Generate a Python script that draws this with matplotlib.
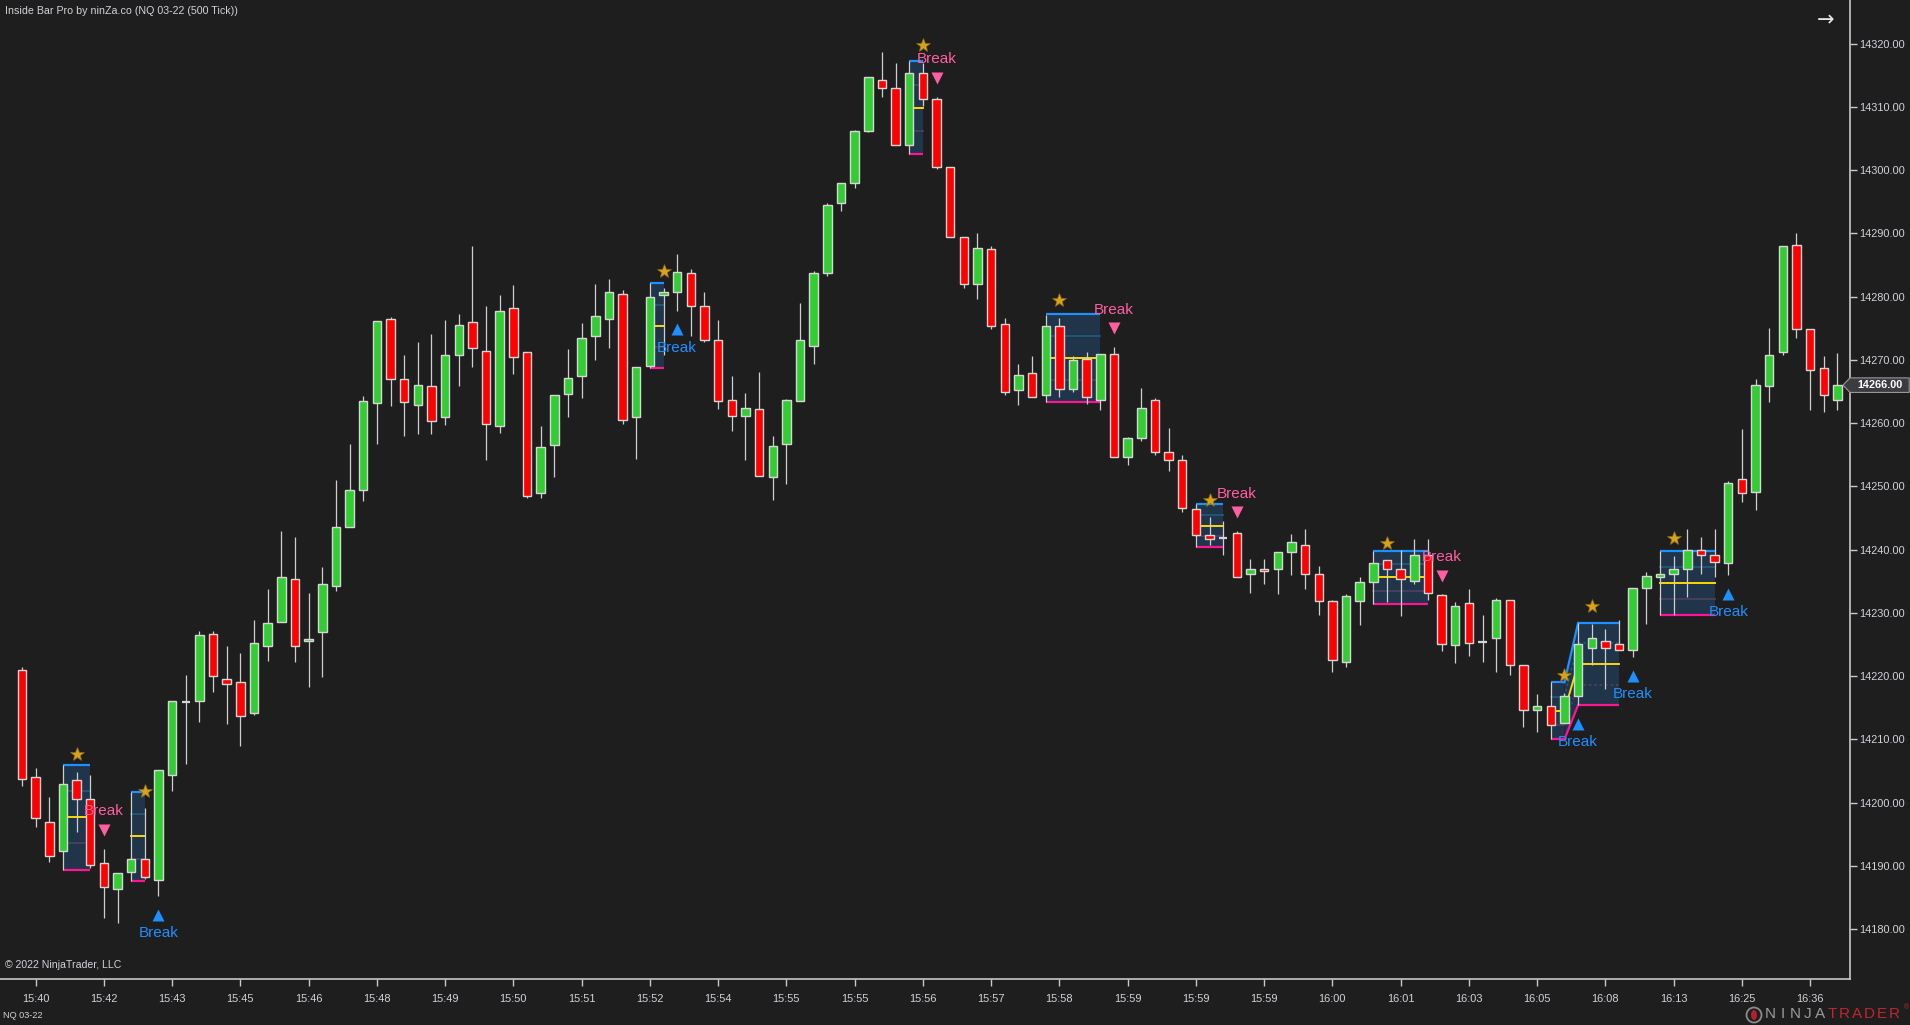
import numpy as np
import matplotlib.pyplot as plt
from matplotlib.patches import Polygon, Rectangle, Ellipse

# ── Candles (500 tick NQ 03-22) ───────────────────────────────────────────────
opens = [14221.0, 14204.0, 14197.0, 14192.3, 14203.5, 14200.5, 14190.4, 14186.3, 14189.0, 14191.0,
         14187.7, 14204.4, 14215.9, 14216.0, 14226.7, 14219.6, 14219.0, 14214.2, 14224.8, 14228.5,
         14235.3, 14225.5, 14227.0, 14234.3, 14243.5, 14249.5, 14263.1, 14276.4, 14266.9, 14262.8,
         14265.8, 14260.9, 14270.7, 14276.0, 14271.4, 14259.6, 14278.2, 14271.2, 14248.9, 14256.6,
         14264.6, 14267.4, 14273.7, 14276.4, 14280.4, 14260.9, 14269.1, 14280.3, 14280.7, 14283.7,
         14278.5, 14273.1, 14263.6, 14261.1, 14262.2, 14251.4, 14256.7, 14263.5, 14272.2, 14283.7,
         14294.8, 14297.9, 14306.2, 14314.3, 14313.0, 14304.0, 14315.4, 14311.2, 14300.5, 14289.4,
         14282.0, 14287.5, 14275.6, 14265.2, 14267.9, 14264.4, 14275.4, 14265.4, 14270.1, 14263.6,
         14270.9, 14254.6, 14257.6, 14263.6, 14255.4, 14254.1, 14246.4, 14242.3, 14241.8, 14242.6,
         14236.1, 14237.0, 14236.9, 14239.6, 14240.8, 14236.1, 14231.8, 14222.3, 14231.8, 14234.8,
         14238.3, 14236.9, 14235.1, 14239.1, 14232.8, 14224.9, 14231.5, 14225.4, 14226.0, 14232.1,
         14221.8, 14214.7, 14215.2, 14212.5, 14216.8, 14224.5, 14225.5, 14225.0, 14224.1, 14233.9,
         14235.6, 14236.1, 14236.9, 14239.9, 14239.1, 14237.8, 14251.1, 14249.1, 14265.8, 14271.2,
         14288.1, 14274.9, 14268.7, 14263.6]
highs = [14221.5, 14205.4, 14200.8, 14206.0, 14204.8, 14204.3, 14192.7, 14188.9, 14201.7, 14199.1,
         14205.2, 14216.0, 14220.2, 14227.1, 14227.1, 14224.8, 14223.6, 14228.8, 14233.8, 14243.0,
         14242.0, 14233.2, 14237.2, 14251.0, 14256.7, 14264.3, 14276.1, 14276.8, 14270.8, 14272.8,
         14274.1, 14276.3, 14277.3, 14288.0, 14278.5, 14280.3, 14281.9, 14271.2, 14259.6, 14264.4,
         14271.7, 14275.8, 14282.0, 14282.8, 14281.1, 14268.8, 14282.1, 14281.3, 14286.7, 14284.4,
         14280.8, 14276.3, 14267.5, 14264.8, 14268.1, 14258.0, 14263.8, 14279.0, 14284.1, 14294.8,
         14298.0, 14306.4, 14314.7, 14318.7, 14317.0, 14317.2, 14317.0, 14311.6, 14300.5, 14289.4,
         14290.1, 14288.0, 14276.6, 14269.4, 14270.6, 14277.1, 14276.6, 14270.6, 14271.2, 14270.9,
         14272.0, 14257.8, 14265.5, 14263.9, 14259.3, 14254.9, 14247.2, 14245.1, 14244.5, 14242.9,
         14238.5, 14238.5, 14239.6, 14242.5, 14243.3, 14237.4, 14232.1, 14232.9, 14235.6, 14239.8,
         14238.3, 14239.9, 14241.6, 14241.6, 14232.9, 14231.7, 14233.7, 14229.6, 14232.4, 14232.1,
         14221.8, 14217.1, 14219.0, 14217.4, 14228.4, 14228.3, 14227.4, 14228.8, 14233.9, 14236.4,
         14239.8, 14239.0, 14243.3, 14242.0, 14243.3, 14250.9, 14259.0, 14266.9, 14275.0, 14288.0,
         14290.0, 14274.9, 14270.6, 14271.1]
lows = [14202.6, 14196.2, 14190.6, 14189.4, 14195.4, 14189.7, 14181.7, 14180.9, 14187.6, 14187.9,
        14185.2, 14201.9, 14206.1, 14212.8, 14217.5, 14212.4, 14209.0, 14213.8, 14222.4, 14228.5,
        14222.2, 14218.2, 14219.8, 14233.5, 14243.5, 14247.7, 14256.7, 14262.7, 14257.9, 14258.3,
        14258.3, 14259.7, 14265.8, 14268.8, 14254.1, 14258.5, 14267.8, 14248.2, 14248.1, 14251.5,
        14260.9, 14263.9, 14270.0, 14271.8, 14259.8, 14254.4, 14268.7, 14270.8, 14277.8, 14273.8,
        14272.9, 14262.3, 14258.8, 14254.1, 14251.6, 14247.8, 14250.3, 14263.5, 14269.4, 14283.3,
        14293.5, 14297.1, 14306.0, 14311.5, 14304.0, 14302.5, 14310.1, 14300.1, 14289.4, 14281.4,
        14279.7, 14274.8, 14264.4, 14262.8, 14264.1, 14263.4, 14264.1, 14264.9, 14263.0, 14262.1,
        14254.6, 14253.3, 14257.1, 14254.9, 14252.5, 14246.0, 14240.4, 14240.7, 14239.2, 14235.6,
        14233.2, 14234.5, 14233.0, 14236.0, 14233.8, 14229.7, 14220.6, 14221.5, 14228.0, 14231.4,
        14231.7, 14229.5, 14234.5, 14232.1, 14224.0, 14222.0, 14223.2, 14222.3, 14220.7, 14220.2,
        14212.0, 14211.2, 14210.0, 14212.5, 14215.4, 14221.8, 14218.0, 14224.1, 14223.0, 14228.3,
        14229.7, 14229.6, 14232.5, 14236.2, 14235.7, 14236.0, 14247.6, 14246.3, 14263.4, 14270.7,
        14273.4, 14262.1, 14261.8, 14262.1]
closes = [14203.7, 14197.6, 14191.5, 14203.0, 14200.5, 14190.2, 14186.7, 14188.9, 14191.0, 14188.2,
          14205.2, 14216.0, 14215.9, 14226.5, 14220.0, 14218.8, 14213.7, 14225.3, 14228.4, 14235.6,
          14224.8, 14225.8, 14234.5, 14243.5, 14249.5, 14263.5, 14276.1, 14267.0, 14263.4, 14266.1,
          14260.4, 14270.7, 14275.5, 14271.9, 14259.8, 14277.8, 14270.4, 14248.5, 14256.2, 14264.4,
          14267.1, 14273.4, 14276.9, 14280.7, 14260.5, 14268.8, 14279.9, 14280.7, 14283.9, 14278.5,
          14273.1, 14263.5, 14261.1, 14262.4, 14251.6, 14256.3, 14263.6, 14273.1, 14283.7, 14294.5,
          14298.0, 14306.2, 14314.7, 14313.0, 14304.0, 14315.4, 14311.2, 14300.5, 14289.4, 14282.0,
          14287.7, 14275.4, 14264.9, 14267.6, 14264.1, 14275.4, 14265.4, 14269.9, 14264.1, 14270.9,
          14254.6, 14257.6, 14262.4, 14255.4, 14254.1, 14246.5, 14242.3, 14241.6, 14241.8, 14235.6,
          14237.0, 14236.6, 14239.6, 14241.2, 14236.1, 14231.8, 14222.5, 14232.6, 14234.8, 14237.8,
          14236.9, 14235.3, 14239.1, 14233.1, 14225.0, 14231.0, 14225.3, 14225.4, 14232.1, 14221.8,
          14214.7, 14215.2, 14212.2, 14216.8, 14225.0, 14226.0, 14224.5, 14224.1, 14233.9, 14235.8,
          14236.1, 14236.9, 14239.9, 14239.1, 14238.1, 14250.6, 14248.9, 14266.1, 14270.7, 14288.0,
          14274.9, 14268.4, 14264.4, 14266.0]

tick_labels = ["15:40", "15:42", "15:43", "15:45", "15:46", "15:48", "15:49", "15:50", "15:51",
               "15:52", "15:54", "15:55", "15:55", "15:56", "15:57", "15:58", "15:59", "15:59",
               "15:59", "16:00", "16:01", "16:03", "16:05", "16:08", "16:13", "16:25", "16:36"]
last_price = 14266.00

# ── Inside bar patterns: mother bar, last inside bar, mother range, break side ─
ib_mother = [3, 8, 46, 65, 75, 86, 99, 112, 114, 120]
ib_last = [5, 9, 47, 66, 79, 88, 103, 113, 117, 124]
ib_top = [14206.0, 14201.7, 14282.1, 14317.2, 14277.2, 14247.2, 14239.8, 14219.0, 14228.4, 14239.8]
ib_bottom = [14189.4, 14187.6, 14268.7, 14302.5, 14263.4, 14240.4, 14231.4, 14210.0, 14215.4, 14229.7]
ib_break = ["down", "up", "up", "down", "down", "down", "down", "up", "up", "up"]

# ── Style ─────────────────────────────────────────────────────────────────────
BG = '#1e1e1e'
UP_COL = '#32cd32'
DN_COL = '#ff0000'
OUTLINE = '#d6d6d6'
AXIS_COL = '#c8c8c8'
TXT_COL = '#d2d2da'
BOX_FILL = '#21364d'
TOP_COL = '#1e90ff'
BOT_COL = '#ff1493'
MID_COL = '#ffd700'
Q3_COL = '#1d5a7a'
Q1_COL = '#4c3e62'
PINK = '#ff5fa2'
BLUE = '#1e8fff'
STAR = '#d9a21b'

plt.rcParams['font.family'] = ['Liberation Sans', 'DejaVu Sans']

W, H = 1910, 1025
fig = plt.figure(figsize=(W / 100, H / 100), dpi=100, facecolor=BG)
ax = fig.add_axes([0, 46 / H, 1850 / W, 979 / H], facecolor=BG)

o = np.array(opens); h = np.array(highs); l = np.array(lows); c = np.array(closes)
x = np.arange(len(o))

# ── Inside bar boxes ──────────────────────────────────────────────────────────
def box_lines(x0, x1, top, bot, dotted=False):
    rng = top - bot
    ls = (0, (1.5, 1.5)) if dotted else '-'
    ax.plot([x0, x1], [top, top], color=TOP_COL, lw=1.6, zorder=2, solid_capstyle='butt')
    ax.plot([x0, x1], [bot, bot], color=BOT_COL, lw=1.6, zorder=2, solid_capstyle='butt')
    ax.plot([x0, x1], [bot + rng / 2] * 2, color=MID_COL, lw=1.4, zorder=2)
    ax.plot([x0, x1], [bot + rng * 0.75] * 2, color=Q3_COL, lw=1.3, ls=ls, zorder=2)
    ax.plot([x0, x1], [bot + rng * 0.25] * 2, color=Q1_COL, lw=1.3, ls=ls, zorder=2)

for i in range(len(ib_mother)):
    m, e, top, bot = ib_mother[i], ib_last[i], ib_top[i], ib_bottom[i]
    ax.add_patch(Rectangle((m, bot), e - m, top - bot, facecolor=BOX_FILL, edgecolor='none',
                           alpha=0.95, zorder=1))
    box_lines(m, e, top, bot, dotted=(i > 0 and ib_mother[i] == ib_last[i - 1] + 1))
    # connector when the break bar becomes the next mother bar
    if i + 1 < len(ib_mother) and ib_mother[i + 1] == e + 1:
        nt, nb = ib_top[i + 1], ib_bottom[i + 1]
        ax.add_patch(Polygon([(e, top), (e + 1, nt), (e + 1, nb), (e, bot)], closed=True,
                             facecolor=BOX_FILL, edgecolor='none', alpha=0.95, zorder=1))
        ax.plot([e, e + 1], [top, nt], color=TOP_COL, lw=1.6, zorder=2)
        ax.plot([e, e + 1], [bot, nb], color=BOT_COL, lw=1.6, zorder=2)
        ax.plot([e, e + 1], [(top + bot) / 2, (nt + nb) / 2], color=MID_COL, lw=1.4, zorder=2)
        ax.plot([e, e + 1], [bot + (top - bot) * 0.75, nb + (nt - nb) * 0.75],
                color=Q3_COL, lw=1.3, ls=(0, (1.5, 1.5)), zorder=2)
        ax.plot([e, e + 1], [bot + (top - bot) * 0.25, nb + (nt - nb) * 0.25],
                color=Q1_COL, lw=1.3, ls=(0, (1.5, 1.5)), zorder=2)

# ── Candles ───────────────────────────────────────────────────────────────────
ax.vlines(x, l, h, color='#cfcfcf', lw=0.9, zorder=3)
doji = np.isclose(o, c)
up = (c > o) & ~doji
dn = (c < o) & ~doji
BW = 0.62
ax.bar(x[up], (c - o)[up], bottom=o[up], width=BW, color=UP_COL, edgecolor=OUTLINE,
       linewidth=1.0, zorder=4)
ax.bar(x[dn], (o - c)[dn], bottom=c[dn], width=BW, color=DN_COL, edgecolor=OUTLINE,
       linewidth=1.0, zorder=4)
ax.hlines(o[doji], x[doji] - BW / 2, x[doji] + BW / 2, color=OUTLINE, lw=1.6, zorder=4)

# ── Stars and break markers ───────────────────────────────────────────────────
for i in range(len(ib_mother)):
    s = ib_mother[i] + 1
    b = ib_last[i] + 1
    ax.plot(s, h[s] + 2.8, marker='*', ms=10, color=STAR, mec='#8a6a10', mew=0.5, zorder=6)
    if ib_break[i] == "down":
        ax.plot(b, h[b] + 3.0, marker='v', ms=8, color=PINK, mec='none', zorder=6)
        ax.text(b, h[b] + 5.9, "Break", color=PINK, fontsize=11, ha='center', va='center',
                zorder=6)
    else:
        ax.plot(b, l[b] - 3.0, marker='^', ms=8, color=BLUE, mec='none', zorder=6)
        ax.text(b, l[b] - 5.9, "Break", color=BLUE, fontsize=11, ha='center', va='center',
                zorder=6)

# ── Axes ──────────────────────────────────────────────────────────────────────
ax.set_xlim(-1.61, 133.92)
ax.set_ylim(14172.1, 14326.9)
ax.yaxis.tick_right()
ax.set_yticks(np.arange(14180, 14321, 10))
ax.yaxis.set_major_formatter(plt.FuncFormatter(lambda v, p: f"{v:.2f}"))
ax.set_xticks(np.arange(1, 1 + 5 * len(tick_labels), 5))
ax.set_xticklabels(tick_labels)
ax.tick_params(axis='both', colors=AXIS_COL, labelcolor=TXT_COL, labelsize=7.9,
               direction='out', length=5, width=1)
ax.tick_params(axis='y', pad=1.8)
ax.tick_params(axis='x', pad=6)
for sp in ['top', 'left']:
    ax.spines[sp].set_visible(False)
for sp in ['right', 'bottom']:
    ax.spines[sp].set_color(AXIS_COL)
    ax.spines[sp].set_linewidth(1.2)

# last price tag
tr = ax.get_yaxis_transform()
hh = 1.15
ax.add_patch(Polygon([(1843 / 1850, last_price), (1.0, last_price + hh), (1.032, last_price + hh),
                      (1.032, last_price - hh), (1.0, last_price - hh)], closed=True,
                     transform=tr, facecolor='#3b3b40', edgecolor='#9a9a9a', lw=0.8,
                     clip_on=False, zorder=7))
ax.text(1.004, last_price, f"{last_price:.2f}", transform=tr, color='white', fontsize=7.8,
        fontweight='bold', ha='left', va='center', clip_on=False, zorder=8)

# ── Chart furniture ───────────────────────────────────────────────────────────
fig.text(5 / W, 1 - 11 / H, "Inside Bar Pro by ninZa.co (NQ 03-22 (500 Tick))", color=TXT_COL,
         fontsize=7.7, ha='left', va='center')
fig.text(5 / W, 1 - 965 / H, "© 2022 NinjaTrader, LLC", color=TXT_COL, fontsize=7.6,
         ha='left', va='center')
fig.text(3 / W, 1 - 1015 / H, "NQ 03-22", color=TXT_COL, fontsize=6.6, ha='left', va='center')
fig.text(1826 / W, 1 - 20 / H, "→", color='#e6e6e6', fontsize=15, ha='center', va='center',
         family='DejaVu Sans')

fig.add_artist(Ellipse((1754 / W, 1 - 1015 / H), 15 / W, 15 / H, transform=fig.transFigure,
                       facecolor='none', edgecolor='#8a8a8a', lw=1.3))
fig.add_artist(Ellipse((1754 / W, 1 - 1015 / H), 6 / W, 10 / H, transform=fig.transFigure,
                       facecolor='#b3202a', edgecolor='none'))
for j, ch in enumerate("NINJATRADER"):
    fig.text((1770 + j * 12.4) / W, 1 - 1014 / H, ch, color='#9a9a9a' if j < 5 else '#c0262e',
             fontsize=11, ha='center', va='center')
fig.text(1906 / W, 1 - 1008 / H, "®", color='#c0262e', fontsize=5, ha='center', va='center')

fig.savefig('out.png', dpi=100, facecolor=BG)
